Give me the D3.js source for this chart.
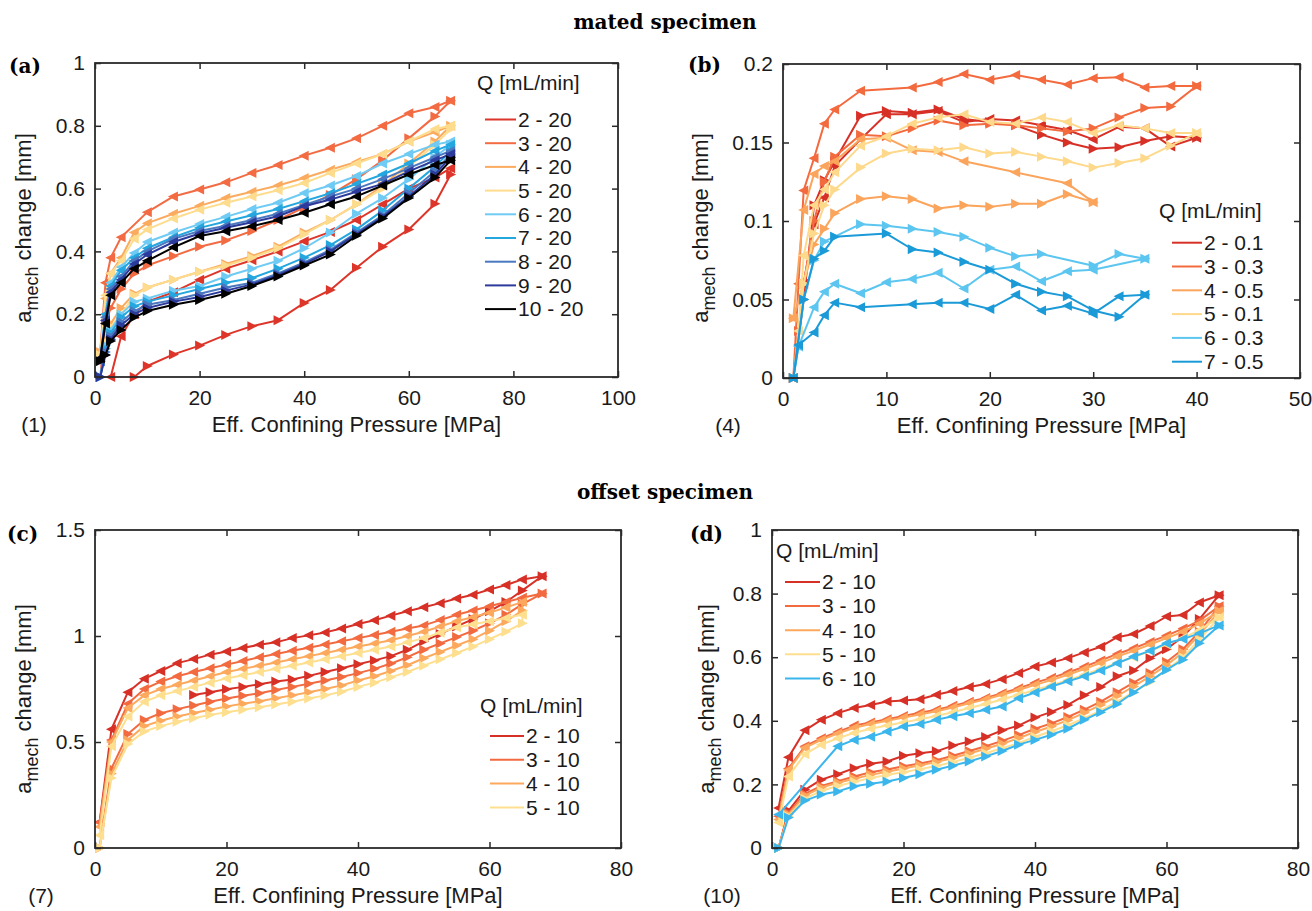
<!DOCTYPE html>
<html><head><meta charset="utf-8">
<script src="https://cdn.jsdelivr.net/npm/d3@7"></script>
<style>body{margin:0;background:#fff}</style>
</head><body>
<svg id="chart" width="1312" height="911" xmlns="http://www.w3.org/2000/svg"></svg>
<script>
// ---------------- DATA ----------------
// Panel (a) mated specimen, Q up to 20 mL/min
const aPressure = [1, 2, 3, 5, 7.5, 10, 15, 20, 25, 30, 35, 40, 45, 50, 55, 60, 65, 68];
const aSeries = ["2 - 20", "3 - 20", "4 - 20", "5 - 20", "6 - 20", "7 - 20", "8 - 20", "9 - 20", "10 - 20"];
const aColors = ["#dd3529", "#f26b43", "#fbab5f", "#fedc8d", "#6fcbf3", "#24a6df", "#4a78c0", "#2c3a9b", "#000000"];
const aLoad = [
  [null, null, null, null, 0.0, 0.035, 0.072, 0.10, 0.134, 0.162, 0.181, 0.236, 0.277, 0.348, 0.415, 0.47, 0.552, 0.645],
  [0.0, 0.17, 0.22, 0.28, 0.33, 0.355, 0.385, 0.415, 0.435, 0.465, 0.50, 0.54, 0.58, 0.63, 0.69, 0.76, 0.83, 0.88],
  [0.08, 0.12, 0.17, 0.22, 0.265, 0.285, 0.31, 0.335, 0.36, 0.385, 0.415, 0.46, 0.50, 0.55, 0.61, 0.68, 0.75, 0.80],
  [0.07, 0.11, 0.16, 0.20, 0.26, 0.285, 0.31, 0.335, 0.355, 0.38, 0.41, 0.455, 0.50, 0.55, 0.60, 0.67, 0.74, 0.79],
  [0.0, 0.10, 0.15, 0.20, 0.24, 0.25, 0.275, 0.29, 0.32, 0.345, 0.37, 0.41, 0.46, 0.52, 0.57, 0.63, 0.70, 0.74],
  [0.0, 0.09, 0.14, 0.19, 0.225, 0.24, 0.26, 0.28, 0.30, 0.315, 0.345, 0.38, 0.42, 0.47, 0.53, 0.60, 0.67, 0.72],
  [0.0, 0.08, 0.13, 0.175, 0.21, 0.23, 0.245, 0.265, 0.285, 0.30, 0.33, 0.365, 0.405, 0.46, 0.515, 0.585, 0.655, 0.71],
  [0.0, 0.07, 0.12, 0.165, 0.20, 0.22, 0.24, 0.255, 0.275, 0.295, 0.325, 0.36, 0.40, 0.455, 0.51, 0.575, 0.645, 0.70],
  [0.05, 0.07, 0.115, 0.15, 0.19, 0.21, 0.23, 0.245, 0.265, 0.29, 0.32, 0.355, 0.39, 0.45, 0.505, 0.57, 0.635, 0.69]
];
const aUnload = [
  [null, null, 0.0, 0.13, 0.2, 0.24, 0.27, 0.31, 0.345, 0.372, 0.40, 0.432, 0.462, 0.50, 0.55, 0.60, 0.635, 0.665],
  [0.08, 0.30, 0.38, 0.445, null, 0.525, 0.575, 0.597, 0.62, 0.65, 0.675, 0.705, 0.73, 0.76, 0.80, 0.84, 0.86, 0.88],
  [0.08, 0.25, 0.33, 0.38, 0.46, 0.49, 0.52, 0.545, 0.57, 0.59, 0.61, 0.634, 0.66, 0.685, 0.71, 0.75, 0.78, 0.80],
  [0.07, 0.26, 0.33, 0.37, 0.44, 0.47, 0.505, 0.533, 0.555, 0.575, 0.595, 0.618, 0.65, 0.68, 0.71, 0.75, 0.79, 0.80],
  [0.06, 0.20, 0.30, 0.35, 0.395, 0.43, 0.46, 0.487, 0.51, 0.535, 0.555, 0.586, 0.61, 0.64, 0.68, 0.71, 0.74, 0.75],
  [0.05, 0.20, 0.29, 0.34, 0.38, 0.41, 0.445, 0.475, 0.495, 0.515, 0.535, 0.56, 0.585, 0.615, 0.645, 0.68, 0.72, 0.74],
  [0.05, 0.19, 0.28, 0.32, 0.37, 0.40, 0.44, 0.465, 0.482, 0.50, 0.52, 0.548, 0.575, 0.60, 0.63, 0.665, 0.70, 0.72],
  [0.06, 0.18, 0.27, 0.31, 0.36, 0.39, 0.43, 0.457, 0.475, 0.493, 0.512, 0.544, 0.565, 0.59, 0.615, 0.655, 0.69, 0.71],
  [0.06, 0.17, 0.26, 0.30, 0.345, 0.37, 0.413, 0.449, 0.464, 0.48, 0.50, 0.523, 0.55, 0.575, 0.61, 0.645, 0.675, 0.69]
];

// Panel (b) mated specimen, low flow rates
const bPressure = [1, 1.5, 2, 3, 4, 5, 7.5, 10, 12.5, 15, 17.5, 20, 22.5, 25, 27.5, 30, 32.5, 35, 37.5, 40];
const bSeries = ["2 - 0.1", "3 - 0.3", "4 - 0.5", "5 - 0.1", "6 - 0.3", "7 - 0.5"];
const bColors = ["#d73027", "#f46a3f", "#fba45c", "#fed98b", "#5cc6f0", "#1b9ad8"];
const bLoad = [
  [0.0, null, 0.05, 0.11, 0.126, 0.138, 0.167, 0.17, 0.169, 0.171, 0.165, 0.163, 0.161, 0.155, 0.15, 0.146, 0.147, 0.151, 0.154, 0.153],
  [0.0, 0.03, 0.06, 0.10, 0.125, 0.141, 0.155, 0.154, 0.159, 0.164, 0.161, 0.162, 0.161, 0.159, 0.157, 0.159, 0.166, 0.172, 0.173, 0.186],
  [0.038, null, 0.06, 0.085, 0.095, 0.105, 0.114, 0.1157, 0.114, 0.108, 0.11, 0.109, 0.111, 0.111, 0.117, 0.112, null, null, null, null],
  [0.0, null, 0.06, 0.092, 0.11, 0.12, 0.134, 0.143, 0.146, 0.145, 0.147, 0.143, 0.144, 0.141, 0.138, 0.134, 0.137, 0.14, 0.148, 0.156],
  [0.0, null, 0.05, 0.075, 0.087, 0.09, 0.098, 0.097, 0.095, 0.093, 0.09, 0.083, 0.0775, 0.079, null, 0.0715, 0.079, 0.076, null, null],
  [0.0, null, 0.05, 0.076, 0.081, 0.09, null, 0.092, 0.082, 0.08, 0.074, 0.069, 0.06, 0.055, 0.052, 0.043, 0.039, 0.053, null, null]
];
const bUnload = [
  [0.0, null, 0.06, 0.098, 0.115, 0.135, 0.152, 0.168, 0.168, 0.17, 0.163, 0.165, 0.164, 0.161, 0.158, 0.152, 0.16, 0.159, 0.1475, 0.153],
  [0.0, 0.06, 0.1195, 0.14, 0.162, 0.171, 0.183, null, 0.185, 0.1885, 0.1936, 0.19, 0.193, 0.19, 0.187, 0.191, 0.1915, 0.185, 0.186, 0.186],
  [0.038, null, 0.107, 0.13, 0.135, 0.138, 0.152, 0.153, 0.145, 0.144, 0.138, null, 0.131, null, 0.124, 0.112, null, null, null, null],
  [0.0, 0.03, 0.078, 0.11, 0.12, 0.131, 0.148, 0.154, 0.162, 0.166, 0.168, 0.163, 0.162, 0.166, 0.163, 0.156, 0.161, 0.159, 0.156, 0.156],
  [0.0, 0.02, null, 0.045, 0.055, 0.06, 0.054, 0.061, 0.063, 0.067, 0.057, 0.069, 0.071, 0.0616, 0.068, 0.069, null, 0.076, null, null],
  [0.0, 0.021, null, 0.029, 0.04, 0.048, 0.045, null, 0.047, 0.048, 0.048, 0.044, 0.053, 0.043, 0.046, 0.041, 0.052, 0.053, null, null]
];

// Panel (c) offset specimen
const cPressure = [0.7, 2.5, 5, 7.5, 10, 12.5, 15, 17.5, 20, 22.5, 25, 27.5, 30, 32.5, 35, 37.5, 40, 42.5, 45, 47.5, 50, 52.5, 55, 57.5, 60, 62.5, 65, 68];
const cSeries = ["2 - 10", "3 - 10", "4 - 10", "5 - 10"];
const cColors = ["#d73027", "#f26a40", "#fca95e", "#fedf8f"];
const cLoad = [
  [null, null, null, null, null, null, 0.722, 0.735, 0.749, 0.76, 0.772, 0.785, 0.795, 0.812, 0.83, 0.848, 0.867, 0.885, 0.905, 0.935, 0.975, 1.01, 1.045, 1.08, 1.117, 1.16, 1.215, 1.282],
  [0.0, 0.375, 0.538, 0.604, 0.636, 0.655, 0.672, 0.69, 0.705, 0.718, 0.73, 0.745, 0.76, 0.775, 0.79, 0.807, 0.825, 0.845, 0.87, 0.9, 0.935, 0.965, 0.995, 1.025, 1.06, 1.1, 1.15, 1.2],
  [0.0, 0.35, 0.51, 0.575, 0.6, 0.62, 0.637, 0.652, 0.668, 0.68, 0.692, 0.706, 0.72, 0.735, 0.75, 0.767, 0.79, 0.81, 0.835, 0.862, 0.895, 0.925, 0.955, 0.985, 1.025, 1.07, 1.12, null],
  [0.0, 0.33, 0.49, 0.55, 0.575, 0.595, 0.612, 0.628, 0.64, 0.652, 0.664, 0.677, 0.69, 0.705, 0.72, 0.737, 0.76, 0.78, 0.805, 0.83, 0.86, 0.89, 0.92, 0.95, 0.985, 1.02, 1.06, null]
];
const cUnload = [
  [0.123, 0.56, 0.735, 0.798, 0.835, 0.872, 0.891, 0.912, 0.927, 0.943, 0.959, 0.97, 0.99, 1.003, 1.017, 1.035, 1.057, 1.074, 1.096, 1.117, 1.136, 1.155, 1.177, 1.195, 1.219, 1.24, 1.267, 1.282],
  [0.12, 0.51, 0.68, 0.75, 0.785, 0.81, 0.83, 0.848, 0.865, 0.882, 0.9, 0.915, 0.93, 0.945, 0.96, 0.975, 0.99, 1.005, 1.02, 1.035, 1.05, 1.075, 1.1, 1.12, 1.14, 1.16, 1.18, 1.2],
  [0.1, 0.5, 0.66, 0.72, 0.75, 0.77, 0.79, 0.81, 0.83, 0.845, 0.86, 0.875, 0.89, 0.905, 0.92, 0.935, 0.95, 0.965, 0.98, 1.0, 1.02, 1.045, 1.07, 1.09, 1.11, 1.135, 1.16, null],
  [0.06, 0.48, 0.62, 0.69, 0.72, 0.74, 0.76, 0.78, 0.8, 0.815, 0.83, 0.845, 0.86, 0.875, 0.89, 0.905, 0.92, 0.935, 0.95, 0.97, 0.99, 1.015, 1.04, 1.055, 1.07, 1.085, 1.1, null]
];

// Panel (d) offset specimen
const dPressure = [1, 2.5, 5, 7.5, 10, 12.5, 15, 17.5, 20, 22.5, 25, 27.5, 30, 32.5, 35, 37.5, 40, 42.5, 45, 47.5, 50, 52.5, 55, 57.5, 60, 62.5, 65, 68];
const dSeries = ["2 - 10", "3 - 10", "4 - 10", "5 - 10", "6 - 10"];
const dColors = ["#d73027", "#f26a40", "#fca95e", "#fedf8f", "#3ab6ec"];
const dLoad = [
  [0.0, 0.117, 0.183, 0.215, 0.232, 0.251, 0.265, 0.272, 0.29, 0.298, 0.304, 0.322, 0.335, 0.349, 0.37, 0.385, 0.41, 0.428, 0.45, 0.48, 0.506, 0.54, 0.558, 0.597, 0.625, 0.665, 0.72, 0.795],
  [0.0, 0.11, 0.17, 0.195, 0.21, 0.225, 0.238, 0.247, 0.257, 0.266, 0.276, 0.29, 0.305, 0.32, 0.337, 0.355, 0.375, 0.392, 0.412, 0.435, 0.46, 0.49, 0.52, 0.55, 0.585, 0.625, 0.68, 0.76],
  [0.0, 0.105, 0.165, 0.19, 0.205, 0.218, 0.23, 0.24, 0.25, 0.26, 0.27, 0.283, 0.297, 0.312, 0.328, 0.345, 0.365, 0.382, 0.402, 0.425, 0.45, 0.478, 0.508, 0.54, 0.575, 0.615, 0.67, 0.745],
  [0.0, 0.1, 0.155, 0.18, 0.195, 0.208, 0.22, 0.23, 0.238, 0.248, 0.258, 0.27, 0.284, 0.298, 0.314, 0.33, 0.35, 0.367, 0.386, 0.408, 0.432, 0.46, 0.49, 0.522, 0.56, 0.6, 0.655, 0.725],
  [0.0, 0.096, 0.149, 0.168, 0.178, 0.194, 0.202, 0.209, 0.22, 0.232, 0.246, 0.259, 0.272, 0.288, 0.305, 0.325, 0.34, 0.356, 0.375, 0.403, 0.427, 0.453, 0.489, 0.524, 0.56, 0.592, 0.644, 0.70]
];
const dUnload = [
  [0.126, 0.285, 0.37, 0.403, 0.424, 0.44, 0.45, 0.461, 0.464, 0.468, 0.482, 0.494, 0.506, 0.516, 0.531, 0.55, 0.571, 0.583, 0.597, 0.615, 0.633, 0.663, 0.673, 0.698, 0.728, 0.733, 0.772, 0.795],
  [0.10, 0.25, 0.32, 0.345, 0.365, 0.385, 0.395, 0.405, 0.415, 0.425, 0.435, 0.447, 0.46, 0.472, 0.487, 0.502, 0.52, 0.535, 0.552, 0.57, 0.59, 0.61, 0.628, 0.648, 0.668, 0.69, 0.715, 0.76],
  [0.09, 0.245, 0.315, 0.34, 0.36, 0.378, 0.39, 0.40, 0.41, 0.42, 0.43, 0.442, 0.455, 0.468, 0.482, 0.497, 0.513, 0.528, 0.545, 0.563, 0.582, 0.602, 0.62, 0.64, 0.66, 0.68, 0.705, 0.745],
  [0.08, 0.225, 0.295, 0.325, 0.345, 0.362, 0.375, 0.385, 0.395, 0.405, 0.415, 0.427, 0.44, 0.453, 0.467, 0.482, 0.497, 0.512, 0.528, 0.545, 0.563, 0.582, 0.6, 0.62, 0.64, 0.66, 0.685, 0.725],
  [0.105, null, null, null, 0.32, 0.34, 0.35, 0.366, 0.382, 0.39, 0.403, 0.414, 0.424, 0.435, 0.445, 0.471, 0.489, 0.508, 0.524, 0.54, 0.558, 0.581, 0.602, 0.62, 0.644, 0.657, 0.675, 0.70]
];

// Tick values
const aXTicks = [0, 20, 40, 60, 80, 100], aYTicks = [0, 0.2, 0.4, 0.6, 0.8, 1];
const bXTicks = [0, 10, 20, 30, 40, 50], bYTicks = [0, 0.05, 0.1, 0.15, 0.2];
const cXTicks = [0, 20, 40, 60, 80], cYTicks = [0, 0.5, 1, 1.5];
const dXTicks = [0, 20, 40, 60, 80], dYTicks = [0, 0.2, 0.4, 0.6, 0.8, 1];

// ---------------- DRAWING ----------------
const SANS = "'Liberation Sans', Arial, Helvetica, sans-serif";
const SERIF = "'DejaVu Serif', serif";
const INK = "#1a1a1a";
const svg = d3.select("#chart");
svg.append("rect").attr("width", 1312).attr("height", 911).attr("fill", "#fff");

const RIGHT_TRI = "M-4.5,-5L-4.5,5L5.5,0Z";
const LEFT_TRI = "M4.5,-5L4.5,5L-5.5,0Z";

function drawPanel(o) {
  const x = d3.scaleLinear().domain(o.xDomain).range([o.box.left, o.box.right]);
  const y = d3.scaleLinear().domain(o.yDomain).range([o.box.bottom, o.box.top]);
  const g = svg.append("g");

  // series
  o.series.forEach((name, i) => {
    const pts = [];
    o.pressure.forEach((p, j) => { const v = o.load[i][j]; if (v != null) pts.push({ p, v, dir: 1 }); });
    for (let j = o.pressure.length - 1; j >= 0; j--) {
      const v = o.unload[i][j]; if (v != null) pts.push({ p: o.pressure[j], v, dir: -1 });
    }
    const sg = g.append("g");
    sg.append("path")
      .attr("d", d3.line().x(d => x(d.p)).y(d => y(d.v))(pts))
      .attr("fill", "none").attr("stroke", o.colors[i])
      .attr("stroke-width", 2).attr("stroke-linejoin", "round");
    sg.selectAll(null).data(pts).enter().append("path")
      .attr("d", d => d.dir > 0 ? RIGHT_TRI : LEFT_TRI)
      .attr("transform", d => `translate(${x(d.p)},${y(d.v)})`)
      .attr("fill", o.colors[i]);
  });

  // axes (ticks inward on all four sides)
  const fmt = d3.format("~g");
  const ax = (axis, tx, ty) => {
    const a = g.append("g").attr("transform", `translate(${tx},${ty})`).call(axis);
    a.select(".domain").remove();
    a.selectAll(".tick line").attr("stroke", "#2a2a2a").attr("stroke-width", 1.5);
    a.selectAll(".tick text").attr("font-family", SANS).attr("font-size", 21).attr("fill", INK);
    return a;
  };
  ax(d3.axisBottom(x).tickValues(o.xTicks).tickFormat(fmt).tickSizeInner(-6).tickSizeOuter(0).tickPadding(13), 0, o.box.bottom);
  ax(d3.axisTop(x).tickValues(o.xTicks).tickFormat("").tickSizeInner(-6).tickSizeOuter(0), 0, o.box.top);
  ax(d3.axisLeft(y).tickValues(o.yTicks).tickFormat(fmt).tickSizeInner(-6).tickSizeOuter(0).tickPadding(10), o.box.left, 0);
  ax(d3.axisRight(y).tickValues(o.yTicks).tickFormat("").tickSizeInner(-6).tickSizeOuter(0), o.box.right, 0);

  g.append("rect")
    .attr("x", o.box.left).attr("y", o.box.top)
    .attr("width", o.box.right - o.box.left).attr("height", o.box.bottom - o.box.top)
    .attr("fill", "none").attr("stroke", "#2a2a2a").attr("stroke-width", 1.8);

  // axis labels
  g.append("text").attr("x", (o.box.left + o.box.right) / 2).attr("y", o.box.bottom + 55)
    .attr("text-anchor", "middle").attr("font-family", SANS).attr("font-size", 22).attr("fill", INK)
    .text("Eff. Confining Pressure [MPa]");
  const yl = g.append("text")
    .attr("transform", `translate(${o.ylab.x},${o.ylab.y}) rotate(-90)`)
    .attr("text-anchor", "middle").attr("font-family", SANS).attr("font-size", 22).attr("fill", INK);
  yl.append("tspan").text("a");
  yl.append("tspan").attr("font-size", 18).attr("dy", 7).text("mech");
  yl.append("tspan").attr("dy", -7).text(" change [mm]");

  // panel tag and number
  g.append("text").attr("x", o.tag.x).attr("y", o.tag.y)
    .attr("font-family", SERIF).attr("font-weight", "bold").attr("font-size", 20).attr("fill", "#000")
    .text(o.tag.t);
  g.append("text").attr("x", o.num.x).attr("y", o.box.bottom + 55).attr("text-anchor", "middle")
    .attr("font-family", SANS).attr("font-size", 21).attr("fill", INK).text(o.num.t);

  // legend
  const L = o.legend;
  g.append("text").attr("x", L.titleX).attr("y", L.titleY).attr("dy", "0.35em")
    .attr("font-family", SANS).attr("font-size", 21).attr("fill", INK).text("Q [mL/min]");
  o.series.forEach((name, i) => {
    const yy = L.rowY + i * L.rowDy;
    g.append("line").attr("x1", L.x1).attr("x2", L.x2).attr("y1", yy).attr("y2", yy)
      .attr("stroke", o.colors[i]).attr("stroke-width", 2);
    g.append("text").attr("x", L.x2 + 2).attr("y", yy).attr("dy", "0.35em")
      .attr("font-family", SANS).attr("font-size", 21).attr("fill", INK).text(name);
  });
}

drawPanel({
  box: { left: 95, right: 618, top: 63, bottom: 377 }, xDomain: [0, 100], yDomain: [0, 1],
  xTicks: aXTicks, yTicks: aYTicks, pressure: aPressure, series: aSeries, colors: aColors,
  load: aLoad, unload: aUnload,
  ylab: { x: 31, y: 228 }, tag: { x: 9, y: 73, t: "(a)" }, num: { x: 34, t: "(1)" },
  legend: { titleX: 477, titleY: 83, x1: 485, x2: 516, rowY: 119.5, rowDy: 23.7 }
});
drawPanel({
  box: { left: 783, right: 1300, top: 64, bottom: 378 }, xDomain: [0, 50], yDomain: [0, 0.2],
  xTicks: bXTicks, yTicks: bYTicks, pressure: bPressure, series: bSeries, colors: bColors,
  load: bLoad, unload: bUnload,
  ylab: { x: 708, y: 228 }, tag: { x: 688, y: 72, t: "(b)" }, num: { x: 728, t: "(4)" },
  legend: { titleX: 1159, titleY: 211, x1: 1172, x2: 1202, rowY: 242.7, rowDy: 23.8 }
});
drawPanel({
  box: { left: 95, right: 621, top: 530, bottom: 848 }, xDomain: [0, 80], yDomain: [0, 1.5],
  xTicks: cXTicks, yTicks: cYTicks, pressure: cPressure, series: cSeries, colors: cColors,
  load: cLoad, unload: cUnload,
  ylab: { x: 31, y: 699 }, tag: { x: 7, y: 541, t: "(c)" }, num: { x: 41, t: "(7)" },
  legend: { titleX: 480, titleY: 706, x1: 490, x2: 524, rowY: 736, rowDy: 23.8 }
});
drawPanel({
  box: { left: 772, right: 1298, top: 530, bottom: 848 }, xDomain: [0, 80], yDomain: [0, 1],
  xTicks: dXTicks, yTicks: dYTicks, pressure: dPressure, series: dSeries, colors: dColors,
  load: dLoad, unload: dUnload,
  ylab: { x: 714, y: 699 }, tag: { x: 690, y: 541, t: "(d)" }, num: { x: 722, t: "(10)" },
  legend: { titleX: 776, titleY: 551, x1: 785, x2: 820, rowY: 582, rowDy: 24.1 }
});

// section titles
svg.append("text").attr("x", 665).attr("y", 29).attr("text-anchor", "middle")
  .attr("font-family", SERIF).attr("font-weight", "bold").attr("font-size", 20).attr("fill", "#000")
  .text("mated specimen");
svg.append("text").attr("x", 665).attr("y", 499).attr("text-anchor", "middle")
  .attr("font-family", SERIF).attr("font-weight", "bold").attr("font-size", 20).attr("fill", "#000")
  .text("offset specimen");
</script>
</body></html>
